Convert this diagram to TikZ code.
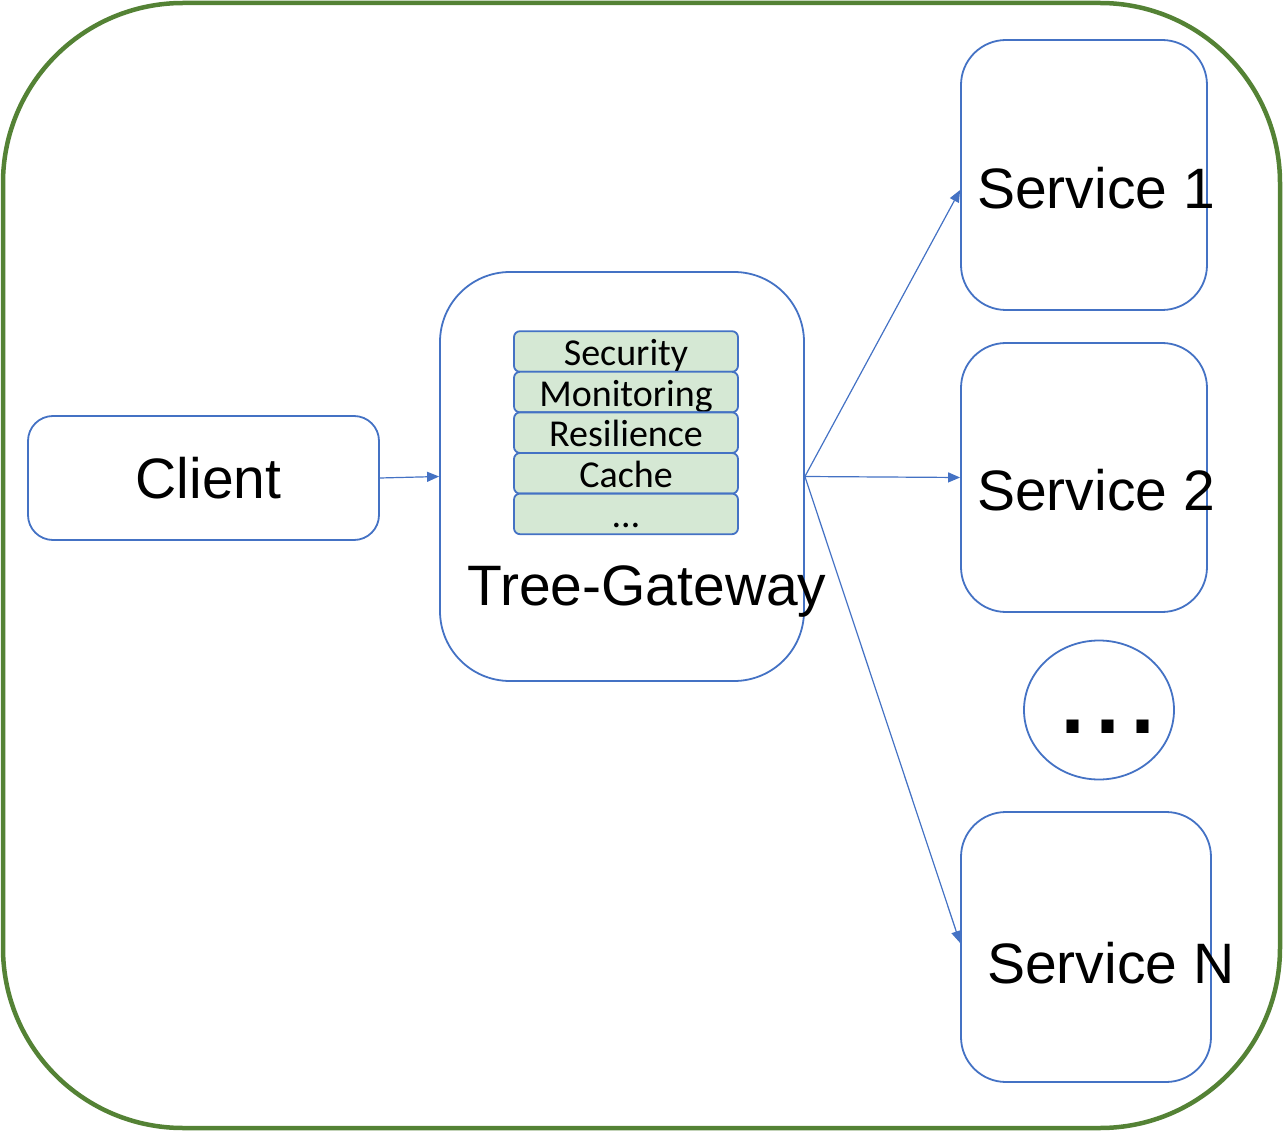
\documentclass[tikz,border=0pt]{standalone}
\usepackage{fontspec}
\setmainfont{Liberation Sans}
\newfontfamily\layerfont{Carlito}
\usepackage{tikz}
\usetikzlibrary{positioning,shapes.geometric,arrows.meta,calc}
\definecolor{boxblue}{HTML}{4472C4}
\definecolor{framegreen}{HTML}{548235}
\definecolor{layergreen}{HTML}{D5E8D4}
\tikzset{
  >={Triangle[length=12pt,width=10pt]},
  frame/.style={draw=framegreen, line width=4.5pt, rounded corners=180pt},
  block/.style={draw=boxblue, line width=1.8pt, inner sep=0pt},
  layer/.style={block, outer sep=0pt, rounded corners=6pt, fill=layergreen, minimum width=224pt,
                minimum height=40.6pt, text height=32pt, text depth=4pt,
                font=\layerfont\fontsize{38}{40}\selectfont},
  bigtext/.style={inner sep=0pt, font=\fontsize{57}{60}\selectfont},
  link/.style={draw=boxblue, line width=1.2pt, ->}
}

\begin{document}
\begin{tikzpicture}[x=1pt,y=-1pt]
  \useasboundingbox (0,0) rectangle (1283,1131);

  % Outer frame.
  \draw[frame] (3,3) rectangle (1280,1128);

  % Client and gateway.
  \node[block, rounded corners=25pt, minimum width=351pt, minimum height=124pt] (client) at (203.5,478) {};
  \node[bigtext] (clientlabel) at ($(client.center)+(5,0)$) {Client};
  \node[block, rounded corners=70pt, minimum width=364pt, minimum height=409pt] (gw) at (622,476.5) {};
  \node[bigtext] (gwlabel) at (647,592) {Tree-Gateway};

  % Layers inside the gateway.
  \node[layer] (sec) at (626,351.5) {Security};
  \node[layer, below=0pt of sec] (mon) {Monitoring};
  \node[layer, below=0pt of mon] (res) {Resilience};
  \node[layer, below=0pt of res] (cache) {Cache};
  \node[layer, below=0pt of cache] (more) {\dots};

  % Services.
  \node[block, rounded corners=45pt, minimum width=246pt, minimum height=270pt] (s1) at (1084,175) {};
  \node[block, rounded corners=45pt, minimum width=246pt, minimum height=269pt] (s2) at (1084,477.5) {};
  \node[block, ellipse, minimum width=150pt, minimum height=139pt] (dots) at (1099,710) {};
  \node[block, rounded corners=45pt, minimum width=250pt, minimum height=270pt] (sn) at (1086,947) {};
  \node[bigtext, anchor=west] (s1label) at (977,188) {Service 1};
  \node[bigtext, anchor=west] (s2label) at (977,490) {Service 2};
  \node[inner sep=0pt, anchor=base, font=\fontsize{126}{130}\selectfont] (dotslabel) at (1108,733) {...};
  \node[bigtext, anchor=west] (snlabel) at (987,963) {Service N};

  % Connectors.
  \draw[link] (client.east) -- (gw.west);
  \draw[link] (gw.east) -- ($(s1.west)+(0,15)$);
  \draw[link] (gw.east) -- (s2.west);
  \draw[link] (gw.east) -- ($(sn.west)+(0,-4)$);
\end{tikzpicture}
\end{document}
